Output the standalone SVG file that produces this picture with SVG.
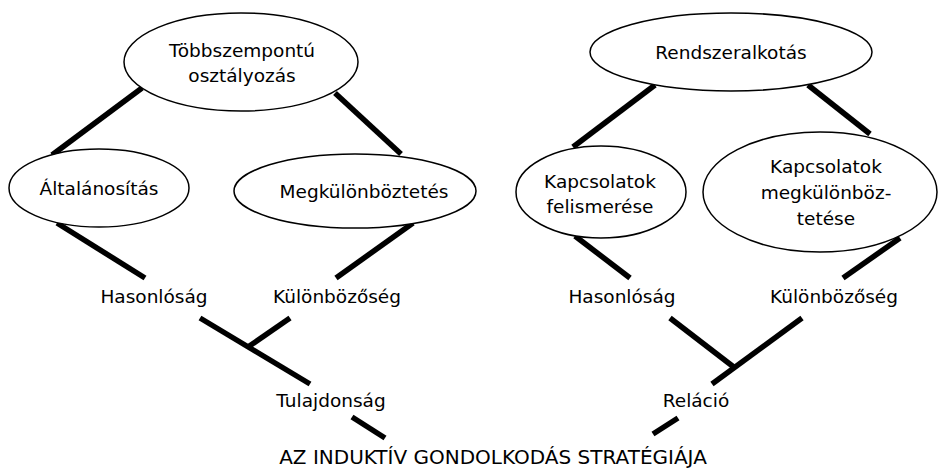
<svg xmlns="http://www.w3.org/2000/svg" width="939" height="470" viewBox="0 0 939 470">
<style>
.n{fill:#fff;stroke:#000;stroke-width:1.5}
.t{font-family:"DejaVu Sans",Verdana,sans-serif;font-size:18.5px;fill:#000;text-anchor:middle}
.h{font-size:20px}
.c line{stroke:#000;stroke-width:5.5;stroke-linecap:butt}
</style>
<rect width="939" height="470" fill="#fff"/>
<g class="c" id="connectors">
<line x1="142" y1="88" x2="52" y2="155"/>
<line x1="335" y1="93" x2="401" y2="154"/>
<line x1="57" y1="223" x2="145" y2="278"/>
<line x1="413" y1="223" x2="336" y2="278"/>
<line x1="200" y1="318" x2="310" y2="384"/>
<line x1="290" y1="318" x2="248" y2="347"/>
<line x1="352" y1="417" x2="385" y2="438"/>
<line x1="655" y1="85" x2="573" y2="147"/>
<line x1="808" y1="85" x2="870" y2="134"/>
<line x1="575" y1="236" x2="630" y2="278"/>
<line x1="900" y1="238" x2="843" y2="278"/>
<line x1="670" y1="318" x2="735" y2="368"/>
<line x1="802" y1="318" x2="712" y2="384"/>
<line x1="678" y1="418" x2="653" y2="434"/>
</g>
<g id="tobbszempontu">
<ellipse class="n" cx="241" cy="62" rx="117" ry="49"/>
<text class="t" x="242" y="57">Többszempontú</text>
<text class="t" x="242" y="82">osztályozás</text>
</g>
<g id="altalanositas">
<ellipse class="n" cx="99" cy="188" rx="90" ry="39"/>
<text class="t" x="99" y="195">Általánosítás</text>
</g>
<g id="megkulonboztetes">
<ellipse class="n" cx="355" cy="191" rx="121" ry="37"/>
<text class="t" x="364" y="198">Megkülönböztetés</text>
</g>
<g id="rendszeralkotas">
<ellipse class="n" cx="731" cy="52" rx="141" ry="39"/>
<text class="t" x="731" y="59">Rendszeralkotás</text>
</g>
<g id="kapcsolatok-felismerese">
<ellipse class="n" cx="601" cy="192" rx="85" ry="46"/>
<text class="t" x="600" y="188">Kapcsolatok</text>
<text class="t" x="600" y="213">felismerése</text>
</g>
<g id="kapcsolatok-megkulonboztetese">
<ellipse class="n" cx="820" cy="192" rx="117" ry="60"/>
<text class="t" x="826" y="173">Kapcsolatok</text>
<text class="t" x="826" y="199">megkülönböz-</text>
<text class="t" x="826" y="225">tetése</text>
</g>
<g id="hasonlosag-1"><text class="t" x="154" y="303">Hasonlóság</text></g>
<g id="kulonbozoseg-1"><text class="t" x="337" y="303">Különbözőség</text></g>
<g id="tulajdonsag"><text class="t" x="331" y="407">Tulajdonság</text></g>
<g id="hasonlosag-2"><text class="t" x="622" y="303">Hasonlóság</text></g>
<g id="kulonbozoseg-2"><text class="t" x="834" y="303">Különbözőség</text></g>
<g id="relacio"><text class="t" x="696" y="407">Reláció</text></g>
<g id="cim"><text class="t h" x="493" y="464">AZ INDUKTÍV GONDOLKODÁS STRATÉGIÁJA</text></g>
</svg>
